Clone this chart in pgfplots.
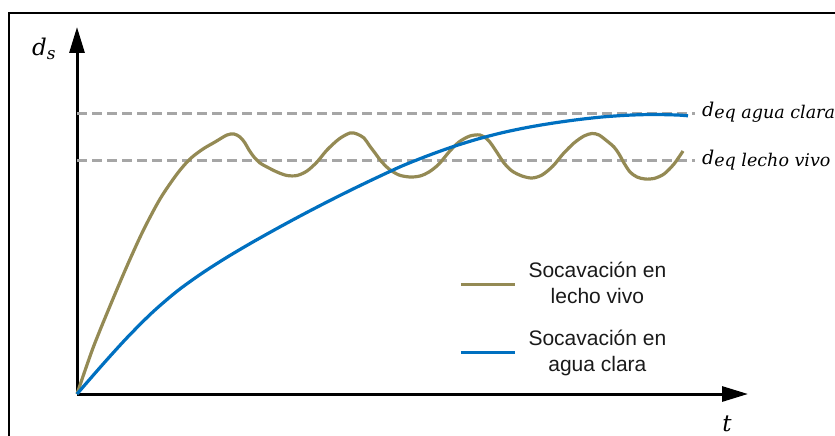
\documentclass[border=0pt]{standalone}
\usepackage{fontspec}
\setmainfont{Liberation Sans}
\newfontfamily\rotulo{DejaVu Serif}
\usepackage{pgfplots}
\pgfplotsset{compat=1.18}
\usetikzlibrary{arrows.meta}
\definecolor{olivo}{HTML}{948A54}
\definecolor{azul}{HTML}{0070C0}
\definecolor{gris}{HTML}{A6A6A6}
\definecolor{texto}{HTML}{1A1A1A}

\begin{document}
\begin{tikzpicture}[x=1pt,y=1pt]
\useasboundingbox (0,0) rectangle (835,-436);
% outer frame
\draw[line width=2pt] (9.3,-440) -- (9.3,-12.7) -- (840,-12.7);
\begin{axis}[
  x=1pt, y=1pt,
  at={(77pt,-394pt)}, anchor=south west,
  xmin=0, xmax=671, ymin=0, ymax=367,
  axis lines=left,
  axis line style={line width=3pt, -{Triangle[length=26pt,width=15pt]}},
  xtick=\empty, ytick=\empty,
  clip=false,
  legend style={draw=none, fill=none, at={(0.5650,0.3651)}, anchor=north west,
    font=\fontsize{21}{26}\selectfont, text=texto,
    row sep=25pt, cells={anchor=center},
    nodes={inner sep=0pt, align=center}},
  legend image code/.code={\draw[#1] (0pt,-1pt) -- (54pt,-1pt); \path (66pt,-1pt);},
]
% equilibrium depths
\addplot[gris, line width=3pt, dash pattern=on 10pt off 5pt, forget plot]
  coordinates {(0,281) (618,281)};
\addplot[gris, line width=3pt, dash pattern=on 10pt off 5pt, forget plot]
  coordinates {(0,234) (618,234)};
% live-bed scour: fast rise, then oscillation about its equilibrium depth
\addplot[olivo, line width=3.2pt, smooth, tension=0.5] coordinates {
  (0,0) (16,46) (33,88) (50,128) (66,163) (83,195) (100,220) (113,235)
  (126,245) (138,252) (150,259) (157,260) (163,257) (168,251) (172,244)
  (177,237) (183,231) (190,227) (200,222) (210,218.5) (220,218.5) (230,223)
  (240,232) (250,244) (262,255) (273,261) (280,260) (287,256) (292,249)
  (298,241) (304,233) (312,225) (322,219) (333,217) (343,218) (352,222)
  (362,230) (372,242) (382,252) (393,258) (403,259) (410,255) (415,249)
  (421,240) (427,231) (435,223) (445,218) (455,216) (465,219) (476,228)
  (486,240) (497,251) (507,258) (515,260.5) (522,259) (530,253) (537,247)
  (542,240) (547,231) (553,222) (560,217) (568,215) (577,215.5) (587,220)
  (597,230) (606,243)};
\addlegendentry{Socavación en\\lecho vivo}
% clear-water scour: slow approach to its equilibrium depth
\addplot[azul, line width=3.2pt, smooth, tension=0.5] coordinates {
  (0,0) (25,28.75) (50,56.25) (75,81.25) (100,102.75) (125,120.75)
  (150,136.75) (175,151.5) (200,165.5) (225,179) (250,192) (275,204.5)
  (300,216.5) (325,228) (350,238) (375,247) (400,254.75) (425,261.25)
  (450,266.5) (475,270.75) (500,274.25) (525,277) (550,278.75)
  (575,279.5) (600,279) (611,278.2)};
\addlegendentry{Socavación en\\agua clara}
\end{axis}
% axis and level labels
\node[anchor=base west, inner sep=0pt] at (32,-56)
  {\rotulo\itshape\fontsize{23}{26}\selectfont d\raisebox{-4pt}{\fontsize{17}{20}\selectfont s}};
\node[anchor=base, inner sep=0pt] at (727,-431)
  {\rotulo\itshape\fontsize{23}{26}\selectfont t};
\node[anchor=base west, inner sep=0pt] at (702,-116)
  {\rotulo\itshape\fontsize{19}{22}\selectfont d\raisebox{-2.5pt}{\fontsize{17.5}{20}\selectfont eq agua clara}};
\node[anchor=base west, inner sep=0pt] at (702,-164)
  {\rotulo\itshape\fontsize{19}{22}\selectfont d\raisebox{-2.5pt}{\fontsize{17.5}{20}\selectfont eq lecho vivo}};
\end{tikzpicture}
\end{document}
